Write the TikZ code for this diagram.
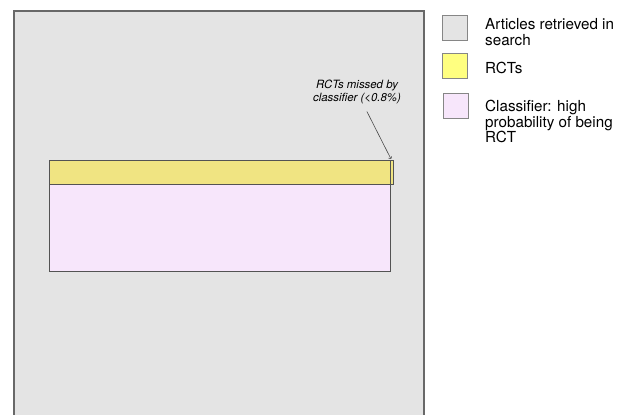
\documentclass[tikz,border=0pt]{standalone}
\usepackage{fontspec}
\setmainfont{TeX Gyre Heros}
\usetikzlibrary{positioning}

\definecolor{searchgray}{HTML}{E4E4E4}
\definecolor{rctyellow}{HTML}{F0E482}
\definecolor{keyyellow}{HTML}{FFFF80}
\definecolor{clspink}{HTML}{F7E6FB}
\definecolor{edgegray}{HTML}{686868}

\tikzset{
  keybox/.style={draw=edgegray!80, line width=0.8pt, minimum width=25pt, minimum height=25pt, inner sep=0pt},
  keytext/.style={anchor=north west, align=left, inner sep=0pt, font=\fontsize{15.2}{15.5}\selectfont},
}

\begin{document}
\begin{tikzpicture}[x=1pt,y=-1pt]
                \useasboundingbox (0,0) rectangle (627,415);
                % Articles retrieved in search (runs off the bottom)
                \fill[searchgray] (14,11) rectangle (424,415);
                \draw[edgegray, line width=1.4pt] (14,415) -- (14,11) -- (424,11) -- (424,415);

                % RCTs and classifier
                \fill[rctyellow] (49,160) rectangle (393,184);
                \fill[clspink] (49,184) rectangle (390,271);
                \draw[edgegray!80!black, line width=1pt] (49,160) rectangle (393,184);
                \draw[edgegray!80!black, line width=1pt] (49,160) rectangle (390,271);

                \node[align=center, inner sep=1pt, font=\itshape\fontsize{11.4}{13.2}\selectfont] (missed) at (357,92) {RCTs missed by\\classifier (<0.8\%)};
                \coordinate (tip) at (391,159);
                \draw[edgegray!70!black, line width=0.6pt, ->, shorten <=7pt] (missed) -- (tip);

                % key
                \node[keybox, fill=searchgray] (keysearch) at (454.5,27.5) {};
                \node[keybox, fill=keyyellow] (keyrct) at (454.5,65.5) {};
                \node[keybox, fill=clspink] (keycls) at (455.5,105.5) {};

                \node[keytext] (txtsearch) at (485,18.5) {Articles retrieved in\\search};
                \node[keytext] (txtrct) at (485,61.5) {RCTs};
                \node[keytext] (txtcls) at (485,100) {Classifier: high\\probability of being\\RCT};
\end{tikzpicture}
\end{document}
